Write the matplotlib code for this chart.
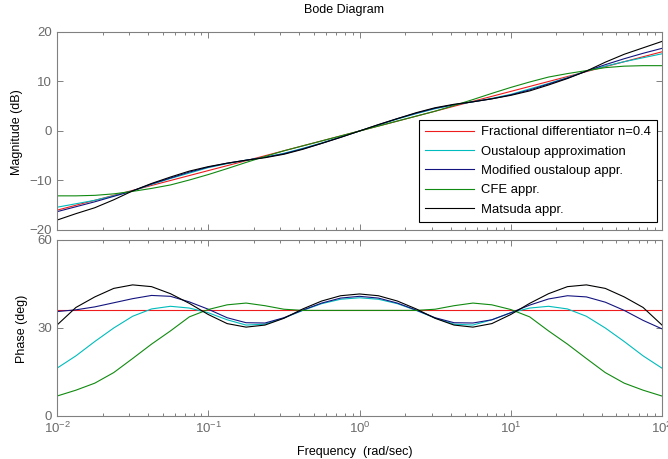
import numpy as np
import matplotlib.pyplot as plt
from matplotlib.ticker import LogLocator, NullFormatter, FixedLocator

plt.rcParams['font.family'] = ['Liberation Sans', 'DejaVu Sans']
plt.rcParams['mathtext.fontset'] = 'custom'
plt.rcParams['mathtext.rm'] = 'Liberation Sans'
plt.rcParams['mathtext.it'] = 'Liberation Sans:italic'

# frequency grid, 8 points per decade (rad/sec)
freq = 10 ** np.linspace(-2, 2, 33)

labels = ['Fractional differentiator n=0.4', 'Oustaloup approximation',
          'Modified oustaloup appr.', 'CFE appr.', 'Matsuda appr.']
colors = ['#ee1c1c', '#00bcbc', '#141480', '#108a10', '#000000']

# magnitude (dB)
mag_frac = [-16, -15, -14, -13, -12, -11, -10, -9, -8, -7, -6, -5, -4, -3, -2, -1, 0,
            1, 2, 3, 4, 5, 6, 7, 8, 9, 10, 11, 12, 13, 14, 15, 16]
mag_oust = [-15.4, -14.7, -14.0, -13.1, -12.1, -10.8, -9.6, -8.5, -7.4, -6.6, -5.9,
            -5.3, -4.5, -3.5, -2.4, -1.2, 0.0, 1.2, 2.4, 3.5, 4.5, 5.3, 5.9, 6.6,
            7.4, 8.5, 9.6, 10.8, 12.1, 13.1, 14.0, 14.8, 15.6]
mag_mod = [-16.3, -15.3, -14.3, -13.2, -12.1, -10.7, -9.5, -8.3, -7.3, -6.5, -5.9,
           -5.3, -4.6, -3.6, -2.5, -1.25, 0.0, 1.25, 2.5, 3.6, 4.6, 5.3, 5.9, 6.5,
           7.3, 8.3, 9.5, 10.7, 12.1, 13.4, 14.6, 15.7, 16.7]
mag_cfe = [-13.1, -13.1, -13.0, -12.7, -12.2, -11.6, -10.9, -9.9, -8.8, -7.6, -6.35,
           -5.15, -4.0, -3.0, -2.0, -1.0, 0.0, 1.0, 2.0, 3.0, 4.0, 5.15, 6.35, 7.6,
           8.8, 9.9, 10.9, 11.6, 12.2, 12.8, 13.1, 13.2, 13.2]
mag_mats = [-18.0, -16.7, -15.5, -13.9, -12.1, -10.6, -9.3, -8.1, -7.2, -6.5, -5.9,
            -5.4, -4.7, -3.7, -2.5, -1.3, 0.0, 1.3, 2.5, 3.7, 4.7, 5.4, 5.9, 6.5,
            7.2, 8.1, 9.3, 10.6, 12.1, 13.9, 15.5, 16.8, 18.1]

# phase (deg)
ph_frac = [36] * 33
ph_oust = [16.3, 20.5, 25.4, 30.0, 34.0, 36.5, 37.4, 36.8, 35.2, 32.8, 31.0, 31.3,
           33.4, 36.0, 38.3, 39.8, 40.3, 39.8, 38.3, 36.0, 33.4, 31.3, 31.0, 32.8,
           35.2, 36.8, 37.4, 36.5, 34.0, 30.0, 25.4, 20.5, 16.3]
ph_mod = [35.6, 36.2, 37.2, 38.6, 40.0, 41.1, 40.8, 38.9, 36.4, 33.5, 31.8, 31.7,
          33.5, 36.1, 38.5, 40.2, 40.8, 40.2, 38.5, 36.1, 33.5, 31.8, 31.7, 32.8,
          35.2, 37.8, 39.9, 41.0, 40.6, 38.8, 36.0, 32.6, 29.7]
ph_cfe = [6.8, 8.8, 11.2, 14.8, 19.6, 24.5, 29.0, 33.8, 36.3, 37.9, 38.5, 37.6,
          36.4, 36.0, 36.0, 36.0, 36.0, 36.0, 36.0, 36.0, 36.4, 37.6, 38.5, 37.9,
          36.3, 33.8, 29.0, 24.5, 19.6, 14.8, 11.2, 8.8, 6.8]
ph_mats = [31.0, 37.0, 40.6, 43.5, 44.7, 44.1, 41.7, 38.4, 34.6, 31.5, 30.3, 31.0,
           33.3, 36.5, 39.2, 41.0, 41.6, 41.0, 39.2, 36.5, 33.3, 31.0, 30.3, 31.5,
           34.6, 38.4, 41.7, 44.1, 44.7, 43.5, 40.6, 37.0, 31.0]

mags = [mag_frac, mag_oust, mag_mod, mag_cfe, mag_mats]
phases = [ph_frac, ph_oust, ph_mod, ph_cfe, ph_mats]

W, H = 668, 459
fig = plt.figure(figsize=(W / 100, H / 100), dpi=100)
ax1 = fig.add_axes([57 / W, 1 - 230 / H, 605 / W, 198 / H])
ax2 = fig.add_axes([57 / W, 1 - 416 / H, 605 / W, 176 / H])

for m, p, c, lab in zip(mags, phases, colors, labels):
    ax1.plot(freq, m, color=c, lw=0.8, label=lab)
    ax2.plot(freq, p, color=c, lw=0.8)

grey = '#808080'
for ax in (ax1, ax2):
    ax.set_xscale('log')
    ax.set_xlim(1e-2, 1e2)
    ax.xaxis.set_major_locator(LogLocator(base=10, numticks=10))
    ax.xaxis.set_minor_locator(LogLocator(base=10, subs=np.arange(2, 10), numticks=10))
    ax.xaxis.set_minor_formatter(NullFormatter())
    ax.tick_params(which='both', direction='in', top=True, right=True,
                   color=grey, labelcolor='#6a6a6a', labelsize=9.5, width=0.7)
    ax.tick_params(which='major', length=4)
    ax.tick_params(which='minor', length=2.5)
    for s in ax.spines.values():
        s.set_color(grey)
        s.set_linewidth(0.8)

ax1.set_ylim(-20, 20)
ax1.yaxis.set_major_locator(FixedLocator([-20, -10, 0, 10, 20]))
ax1.tick_params(labelbottom=False)
ax2.set_ylim(0, 60)
ax2.yaxis.set_major_locator(FixedLocator([0, 30, 60]))

leg = ax1.legend(loc='lower right', bbox_to_anchor=(0.992, 0.04), borderaxespad=0,
                 fontsize=9.4, frameon=True, fancybox=False, framealpha=1,
                 edgecolor='black', handlelength=3.7, handletextpad=0.55,
                 labelspacing=0.55, borderpad=0.5)
leg.get_frame().set_linewidth(0.8)

fig.text(344 / W, 1 - 10 / H, 'Bode Diagram', ha='center', va='center', fontsize=9)
fig.text(17 / W, 1 - 132 / H, 'Magnitude (dB)', rotation=90, ha='center', va='center',
         fontsize=9)
fig.text(22 / W, 1 - 329 / H, 'Phase (deg)', rotation=90, ha='center', va='center',
         fontsize=9)
fig.text(355 / W, 1 - 452 / H, 'Frequency  (rad/sec)', ha='center', va='center',
         fontsize=9)

fig.savefig('out.png', dpi=100)
